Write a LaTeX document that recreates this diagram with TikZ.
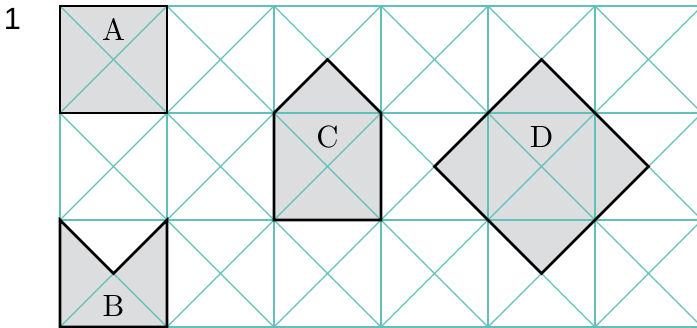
\documentclass[tikz,border=0pt]{standalone}
\usepackage{fontspec}
\newfontfamily\numfont{Liberation Sans}
\definecolor{gridteal}{RGB}{98,192,186}
\definecolor{shapegray}{RGB}{220,221,223}
\tikzset{
  gridline/.style={draw=gridteal, line width=0.4pt},
  shapefill/.style={fill=shapegray},
  outline/.style={draw=black, line width=0.85pt, line join=miter},
  lbl/.style={font=\normalsize, inner sep=0pt}
}
\begin{document}
\begin{tikzpicture}[x=1.225cm,y=1.225cm]
\useasboundingbox (-0.561,-0.003) rectangle (5.953,3.056);
\clip (-0.561,-0.003) rectangle (5.953,3.056);
% fills
\fill[shapefill] (0,2) rectangle (1,3);
\fill[shapefill] (0,0) -- (0,1) -- (0.5,0.5) -- (1,1) -- (1,0) -- cycle;
\fill[shapefill] (2,1) -- (3,1) -- (3,2) -- (2.5,2.5) -- (2,2) -- cycle;
\fill[shapefill] (4.5,2.5) -- (3.5,1.5) -- (4.5,0.5) -- (5.5,1.5) -- cycle;
% grid
\foreach \y in {0,1,2,3} { \draw[gridline] (0,\y) -- (6.2,\y); }
\foreach \x in {0,...,6} { \draw[gridline] (\x,0) -- (\x,3); }
\foreach \x in {0,...,5} {
  \foreach \y in {0,1,2} {
    \draw[gridline] (\x,\y) -- ++(1,1);
    \draw[gridline] (\x,\y+1) -- ++(1,-1);
  }
}
% outlines
\draw[outline] (0,2) rectangle (1,3);
\draw[outline] (0,0) -- (0,1) -- (0.5,0.5) -- (1,1) -- (1,0) -- cycle;
\draw[outline] (2,1) -- (3,1) -- (3,2) -- (2.5,2.5) -- (2,2) -- cycle;
\draw[outline] (4.5,2.5) -- (3.5,1.5) -- (4.5,0.5) -- (5.5,1.5) -- cycle;
% labels
\node[lbl] (la) at (0.5,2.78) {A};
\node[lbl] (lb) at (0.5,0.2) {B};
\node[lbl] (lc) at (2.5,1.78) {C};
\node[lbl] (ld) at (4.5,1.78) {D};
\node[inner sep=0pt, font=\numfont\fontsize{10}{12}\selectfont] (num) at (-0.444,2.88) {1};
\end{tikzpicture}
\end{document}
